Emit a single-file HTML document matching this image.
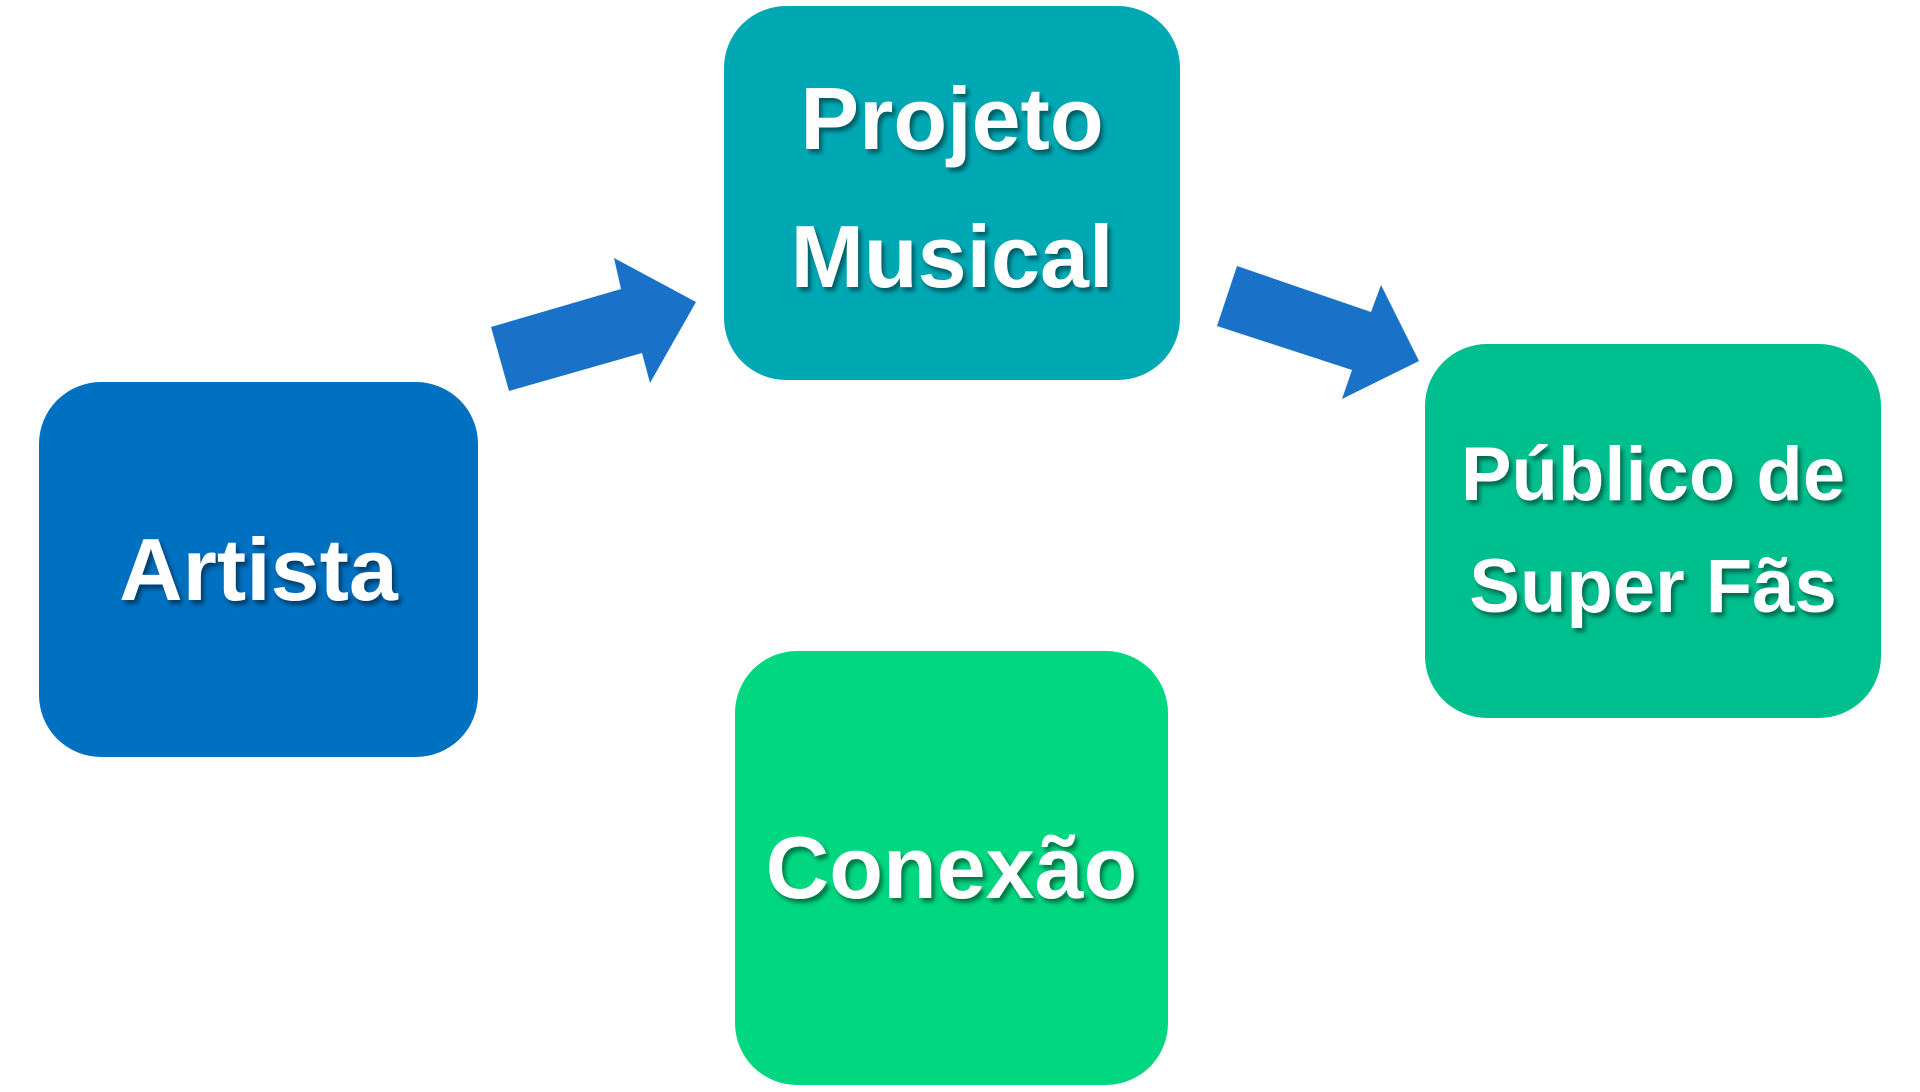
<!DOCTYPE html>
<html><head><meta charset="utf-8"><style>
body{margin:0;width:1920px;height:1092px;background:#fff;position:relative;overflow:hidden;font-family:"Liberation Sans",sans-serif;}
.b{position:absolute;border-radius:62px;display:flex;align-items:center;justify-content:center;text-align:center;color:#fff;font-weight:bold;font-size:88px;line-height:138px;text-shadow:3px 4px 4px rgba(0,0,0,0.45);box-sizing:border-box;}
</style></head><body>
<div class="b" style="left:39px;top:382px;width:439px;height:375px;background:#0070C0;">Artista</div>
<div class="b" style="left:724px;top:6px;width:456px;height:374px;background:#00A8B4;padding-bottom:10px;">Projeto<br>Musical</div>
<div class="b" style="left:1425px;top:344px;width:456px;height:374px;background:#00BF8F;font-size:76px;line-height:112px;">Público de<br>Super Fãs</div>
<div class="b" style="left:735px;top:651px;width:433px;height:434px;background:#00D780;">Conexão</div>
<svg width="1920" height="1092" style="position:absolute;left:0;top:0">
<polygon fill="#1A72C8" points="509,391 491,327 621,289 614,258 696,302 650,383 642,353"/>
<polygon fill="#1A72C8" points="1237,266 1217,326 1352,370 1342,399 1419,361 1381,285 1371,312"/>
</svg>
</body></html>
